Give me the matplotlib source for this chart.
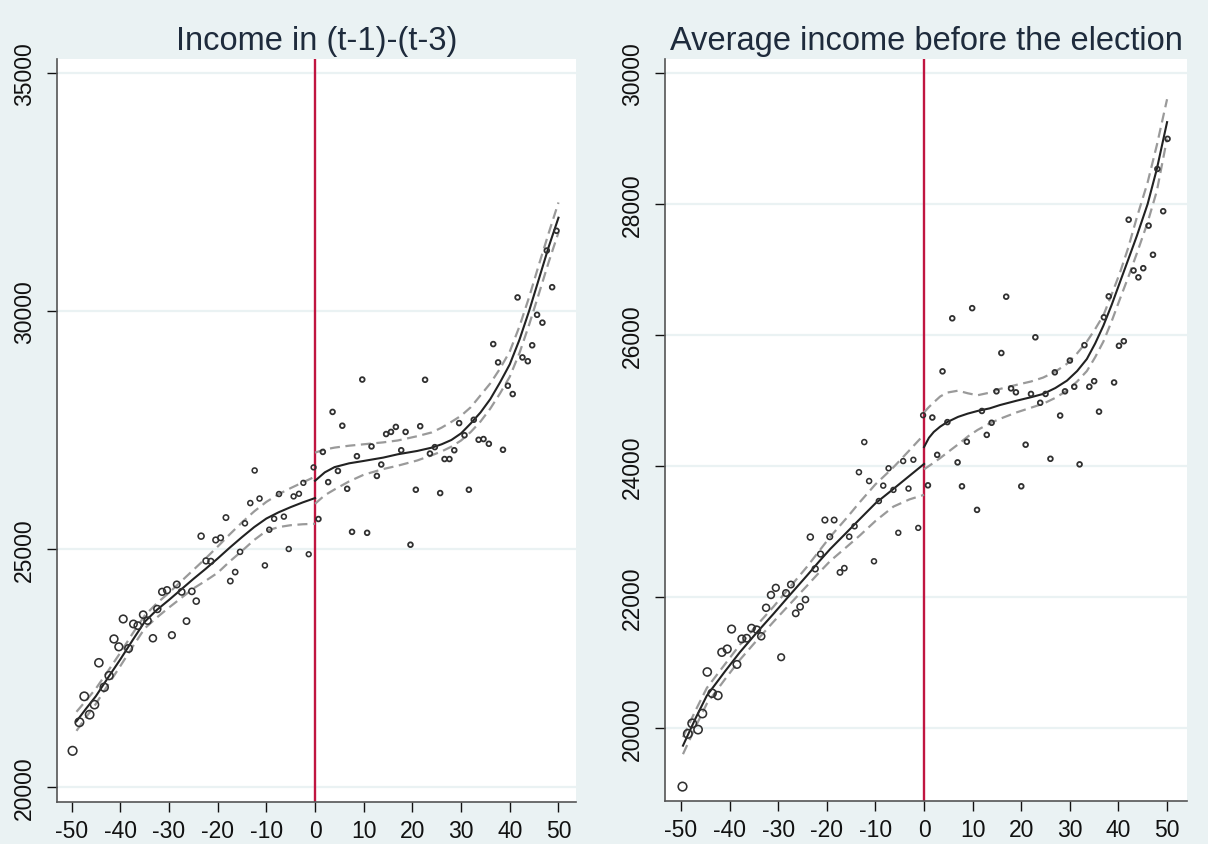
import numpy as np
import matplotlib.pyplot as plt

plt.rcParams['font.family'] = ['Liberation Sans', 'DejaVu Sans']
plt.rcParams['axes.unicode_minus'] = False

# ---- panel 1: income in (t-1)-(t-3) ----
inc_x_left = [-49.8, -48.4, -47.4, -46.3, -45.3, -44.4, -43.3, -42.3, -41.3, -40.3,
              -39.4, -38.3, -37.3, -36.4, -35.3, -34.4, -33.3, -32.4, -31.4, -30.4,
              -29.4, -28.4, -27.4, -26.4, -25.3, -24.4, -23.4, -22.4, -21.4, -20.4,
              -19.4, -18.3, -17.4, -16.4, -15.4, -14.4, -13.3, -12.4, -11.4, -10.3,
              -9.4, -8.4, -7.4, -6.4, -5.4, -4.4, -3.3, -2.4, -1.3, -0.3]
inc_y_left = [20760, 21360, 21905, 21520, 21730, 22610, 22095, 22340, 23110, 22945,
              23530, 22910, 23425, 23390, 23620, 23495, 23125, 23740, 24100, 24135,
              23190, 24255, 24100, 23485, 24110, 23905, 25270, 24750, 24740, 25190,
              25235, 25660, 24326, 24515, 24940, 25540, 25965, 26650, 26060, 24655,
              25405, 25635, 26155, 25680, 25000, 26105, 26160, 26390, 24890, 26715]
inc_x_right = [0.7, 1.6, 2.7, 3.6, 4.7, 5.6, 6.6, 7.6, 8.6, 9.7,
               10.7, 11.6, 12.7, 13.6, 14.6, 15.6, 16.6, 17.7, 18.6, 19.6,
               20.7, 21.6, 22.6, 23.6, 24.6, 25.7, 26.6, 27.6, 28.6, 29.6,
               30.7, 31.6, 32.6, 33.6, 34.6, 35.7, 36.6, 37.6, 38.6, 39.6,
               40.6, 41.6, 42.6, 43.7, 44.6, 45.6, 46.7, 47.6, 48.7, 49.6]
inc_y_right = [25630, 27040, 26405, 27880, 26640, 27590, 26265, 25360, 26950, 28560,
               25340, 27155, 26535, 26775, 27415, 27460, 27565, 27075, 27460, 25090,
               26245, 27580, 28555, 27005, 27140, 26175, 26890, 26890, 27075, 27645,
               27390, 26245, 27715, 27295, 27310, 27210, 29305, 28920, 27085, 28430,
               28255, 30285, 29025, 28945, 29280, 29920, 29755, 31270, 30500, 31685]

# fitted curve and confidence band
inc_fit_xl = [-49, -47, -45, -42.5, -40, -37.5, -35, -32.5, -30, -27.5, -25, -22.5,
              -20, -17.5, -15, -12.5, -10, -7.5, -5, -2.5, 0]
inc_fit_l = [21380, 21650, 21910, 22300, 22680, 23080, 23470, 23720, 23930, 24150,
             24370, 24580, 24800, 25030, 25250, 25460, 25640, 25770, 25880, 25980, 26070]
inc_hi_l = [21580, 21820, 22070, 22440, 22820, 23220, 23600, 23860, 24080, 24320,
            24560, 24800, 25050, 25310, 25560, 25790, 25990, 26150, 26280, 26400, 26520]
inc_lo_l = [21180, 21470, 21750, 22150, 22540, 22940, 23330, 23560, 23770, 23970,
            24170, 24330, 24500, 24740, 24960, 25190, 25380, 25460, 25500, 25520, 25530]
inc_fit_xr = [0, 2, 4, 7, 10, 14, 17, 21, 24, 26, 28, 30, 32, 34, 36, 38, 40, 42, 44, 46, 48, 50]
inc_fit_r = [26433, 26610, 26720, 26800, 26850, 26920, 26990, 27060, 27130, 27200, 27290,
             27430, 27640, 27870, 28150, 28500, 28880, 29400, 30010, 30680, 31350, 31960]
inc_hi_r = [27025, 27090, 27130, 27170, 27200, 27240, 27280, 27370, 27450, 27550, 27670,
            27800, 27980, 28230, 28480, 28790, 29150, 29680, 30300, 30980, 31640, 32280]
inc_lo_r = [25950, 26130, 26250, 26420, 26560, 26680, 26750, 26860, 26970, 27050, 27150,
            27280, 27460, 27680, 27950, 28270, 28620, 29120, 29720, 30370, 31030, 31650]

# ---- panel 2: average income before the election ----
avg_x_left = [-49.7, -48.6, -47.7, -46.5, -45.6, -44.6, -43.6, -42.4, -41.6, -40.5,
              -39.6, -38.5, -37.5, -36.5, -35.5, -34.4, -33.5, -32.5, -31.5, -30.5,
              -29.4, -28.4, -27.4, -26.4, -25.5, -24.4, -23.4, -22.4, -21.3, -20.4,
              -19.4, -18.5, -17.3, -16.4, -15.4, -14.3, -13.4, -12.3, -11.3, -10.3,
              -9.3, -8.4, -7.3, -6.3, -5.3, -4.3, -3.2, -2.2, -1.2, -0.2]
avg_y_left = [19105, 19910, 20070, 19975, 20220, 20855, 20530, 20495, 21155, 21205,
              21510, 20970, 21360, 21370, 21525, 21500, 21400, 21835, 22030, 22140,
              21080, 22060, 22190, 21750, 21850, 21960, 22915, 22430, 22655, 23175,
              22920, 23175, 22375, 22440, 22920, 23080, 23905, 24365, 23770, 22545,
              23465, 23700, 23965, 23635, 22980, 24075, 23655, 24095, 23055, 24775]
avg_x_right = [0.8, 1.7, 2.7, 3.8, 4.8, 5.8, 6.9, 7.8, 8.8, 9.9,
               10.9, 11.9, 12.9, 13.9, 14.9, 15.9, 16.9, 17.9, 18.9, 20.0,
               20.9, 22.0, 22.9, 23.9, 25.0, 26.0, 26.9, 28.0, 29.0, 30.0,
               30.9, 32.0, 33.0, 34.0, 35.0, 36.0, 37.0, 38.0, 39.1, 40.1,
               41.1, 42.1, 43.1, 44.1, 45.1, 46.2, 47.1, 48.0, 49.2, 50.1]
avg_y_right = [23705, 24740, 24170, 25445, 24670, 26255, 24055, 23690, 24370, 26410,
               23330, 24840, 24475, 24660, 25140, 25725, 26585, 25185, 25125, 23690,
               24325, 25100, 25965, 24965, 25100, 24110, 25430, 24770, 25140, 25610,
               25210, 24025, 25845, 25210, 25295, 24830, 26270, 26590, 25275, 25835,
               25905, 27760, 26985, 26880, 27020, 27670, 27225, 28535, 27890, 28995]

avg_fit_xl = [-49.6, -47, -44.7, -41, -37.9, -34.5, -31.0, -27.5, -24.1, -21.5,
              -19.3, -16, -13.2, -10, -6.3, -3, 0]
avg_fit_l = [19730, 20150, 20493, 20860, 21156, 21450, 21741, 22040, 22326, 22550,
             22733, 22980, 23191, 23430, 23650, 23850, 24031]
avg_hi_l = [19860, 20270, 20610, 20970, 21270, 21560, 21850, 22160, 22460, 22710,
            22920, 23200, 23450, 23720, 23980, 24240, 24480]
avg_lo_l = [19600, 20020, 20370, 20740, 21040, 21330, 21620, 21900, 22170, 22380,
            22550, 22760, 22940, 23160, 23380, 23490, 23560]
avg_fit_xr = [0, 1, 2, 3.3, 4.7, 7, 9, 11, 13.5, 15.6, 19.1, 22, 24.5, 27, 29.4,
              31.5, 33.5, 35.2, 36.9, 38.6, 40.3, 42, 43.8, 46, 47.9, 50]
avg_fit_r = [24290, 24430, 24520, 24600, 24668, 24750, 24800, 24840, 24880, 24930,
             24998, 25050, 25100, 25190, 25303, 25450, 25634, 25870, 26143, 26460,
             26806, 27150, 27517, 28000, 28536, 29250]
avg_hi_r = [24820, 24900, 24972, 25060, 25120, 25150, 25110, 25080, 25120, 25176,
            25240, 25290, 25350, 25440, 25560, 25720, 25900, 26090, 26300, 26620,
            26950, 27330, 27800, 28330, 28900, 29600]
avg_lo_r = [23950, 24000, 24050, 24120, 24200, 24330, 24450, 24550, 24650, 24720,
            24820, 24890, 24950, 25040, 25150, 25290, 25450, 25660, 25900, 26210,
            26550, 26880, 27250, 27720, 28200, 29000]

bg = '#eaf2f3'
fig = plt.figure(figsize=(12.08, 8.45), dpi=100, facecolor=bg)
ax1 = fig.add_axes([57 / 1208, 42 / 845, 519 / 1208, 743 / 845])
ax2 = fig.add_axes([665 / 1208, 43 / 845, 522 / 1208, 742 / 845])


def msize(x):
    # bigger rings where the bins hold more observations
    d = np.interp(x, [-50, -30, -15, 0], [6.2, 4.8, 3.6, 3.4])
    return d ** 2


def draw(ax, xl, yl, xr, yr, fits, title, yticks, xlim, ylim):
    ax.set_facecolor('white')
    for yt in yticks:
        ax.axhline(yt, color=bg, lw=1.6, zorder=0)
    ax.axvline(0, color='#c01540', lw=1.7, zorder=1)
    for fx, fy, hi, lo in fits:
        ax.plot(fx, hi, color='#9a9a9a', lw=1.6, ls=(0, (4.5, 2.5)), zorder=2)
        ax.plot(fx, lo, color='#9a9a9a', lw=1.6, ls=(0, (4.5, 2.5)), zorder=2)
        ax.plot(fx, fy, color='#222222', lw=1.5, zorder=3)
    ax.scatter(xl, yl, s=msize(np.array(xl)), facecolors='none',
               edgecolors='#303030', linewidths=1.15, zorder=4)
    ax.scatter(xr, yr, s=msize(np.array(xr)), facecolors='none',
               edgecolors='#303030', linewidths=1.3, zorder=4)
    ax.set_xlim(xlim)
    ax.set_ylim(ylim)
    ax.set_xticks(range(-50, 51, 10))
    ax.set_yticks(yticks)
    ax.set_yticklabels([str(v) for v in yticks], rotation=90, va='center')
    ax.tick_params(axis='both', labelsize=16.5, colors='#111111', length=7,
                   width=1, direction='out', pad=5)
    ax.tick_params(axis='y', pad=8)
    for s in ['top', 'right']:
        ax.spines[s].set_visible(False)
    for s in ['left', 'bottom']:
        ax.spines[s].set_color('#555555')
        ax.spines[s].set_linewidth(1.2)
    ax.set_title(title, fontsize=23.5, color='#1e2b3c', pad=7)


draw(ax1, inc_x_left, inc_y_left, inc_x_right, inc_y_right,
     [(inc_fit_xl, inc_fit_l, inc_hi_l, inc_lo_l),
      (inc_fit_xr, inc_fit_r, inc_hi_r, inc_lo_r)],
     'Income in (t-1)-(t-3)', [20000, 25000, 30000, 35000],
     (-53.0, 53.6), (19685, 35294))
draw(ax2, avg_x_left, avg_y_left, avg_x_right, avg_y_right,
     [(avg_fit_xl, avg_fit_l, avg_hi_l, avg_lo_l),
      (avg_fit_xr, avg_fit_r, avg_hi_r, avg_lo_r)],
     'Average income before the election', list(range(20000, 30001, 2000)),
     (-53.3, 54.1), (18885, 30214))

fig.savefig('out.png', dpi=100, facecolor=bg)
